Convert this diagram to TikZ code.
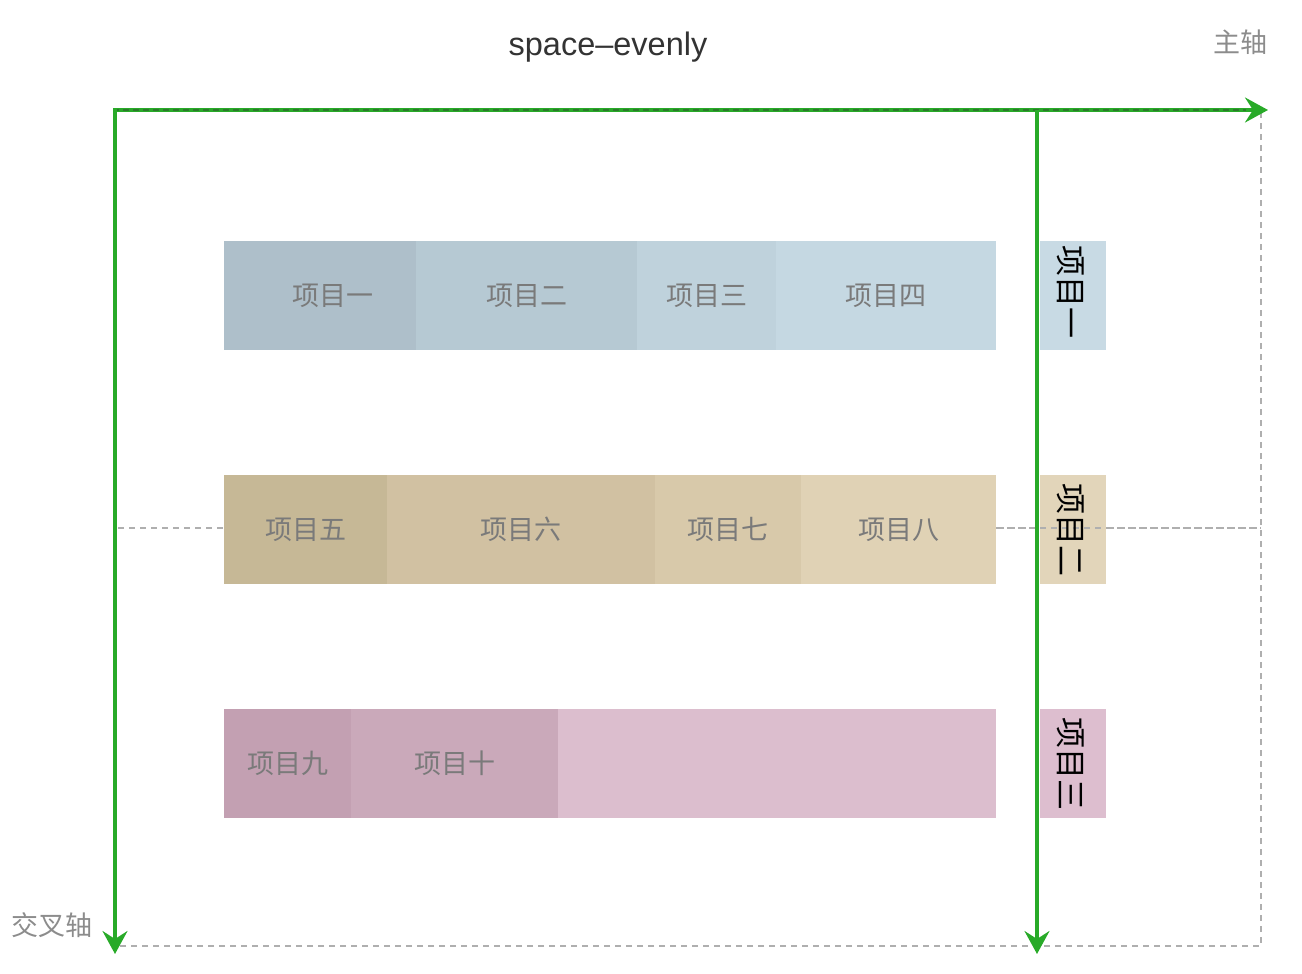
\documentclass[tikz,border=0pt]{standalone}
\usepackage{fontspec}
\setmainfont{Liberation Sans}
\newfontfamily\cjk{Noto Sans CJK SC}
\usetikzlibrary{arrows.meta}
\definecolor{axisgreen}{RGB}{40,170,40}
\definecolor{darkgreen}{RGB}{45,120,45}
\definecolor{guide}{RGB}{175,175,175}
\definecolor{bA}{RGB}{174,191,202}
\definecolor{bB}{RGB}{182,201,211}
\definecolor{bC}{RGB}{191,210,220}
\definecolor{bD}{RGB}{197,216,226}
\definecolor{yA}{RGB}{198,184,150}
\definecolor{yB}{RGB}{209,193,162}
\definecolor{yC}{RGB}{216,201,170}
\definecolor{yD}{RGB}{224,210,181}
\definecolor{pA}{RGB}{195,160,178}
\definecolor{pB}{RGB}{202,169,186}
\definecolor{pC}{RGB}{220,190,206}
\definecolor{rB}{RGB}{200,218,228}
\definecolor{rY}{RGB}{226,213,186}
\definecolor{rP}{RGB}{221,190,207}
\tikzset{
  seg/.style={draw=none, minimum height=109pt, inner sep=0pt, font=\cjk\fontsize{27}{27}\selectfont, text=black!52},
  side/.style={draw=none, minimum width=66pt, minimum height=109pt, inner sep=0pt},
  sidetext/.style={font=\cjk\fontsize{31}{31}\selectfont, text=black, rotate=-90},
  guideline/.style={draw=guide, line width=1.3pt, dash pattern=on 6pt off 5pt},
  axis/.style={draw=axisgreen, line width=3.2pt, -{Stealth[length=23pt,width=25pt,inset=8pt]}},
  axlabel/.style={font=\cjk\fontsize{27}{27}\selectfont, text=black!45},
}
\begin{document}
\begin{tikzpicture}[x=1pt,y=-1pt]
\useasboundingbox (0,0) rectangle (1302,974);
% guide lines
\draw[guideline] (1261,112) -- (1261,946) -- (118,946);
\draw[guideline] (118,528) -- (1261,528);
% row 1
\node[seg, fill=bA, minimum width=192pt] (n1) at (320,295.5) {};
\node[seg, fill=bB, minimum width=221pt] (n2) at (526.5,295.5) {项目二};
\node[seg, fill=bC, minimum width=139pt] (n3) at (706.5,295.5) {项目三};
\node[seg, fill=bD, minimum width=220pt] (n4) at (886,295.5) {项目四};
\node[seg, minimum height=0pt] (n1t) at (333,295.5) {项目一};
% row 2
\node[seg, fill=yA, minimum width=163pt] (n5) at (305.5,529.5) {项目五};
\node[seg, fill=yB, minimum width=268pt] (n6) at (521,529.5) {项目六};
\node[seg, fill=yC, minimum width=146pt] (n7) at (728,529.5) {项目七};
\node[seg, fill=yD, minimum width=195pt] (n8) at (898.5,529.5) {项目八};
% row 3
\node[seg, fill=pA, minimum width=127pt] (n9) at (287.5,763.5) {项目九};
\node[seg, fill=pB, minimum width=207pt] (n10) at (454.5,763.5) {项目十};
\node[seg, fill=pC, minimum width=438pt] (n11) at (777,763.5) {};
% side column
\node[side, fill=rB] (s1) at (1073,295.5) {};
\node[side, fill=rY] (s2) at (1073,529.5) {};
\node[side, fill=rP] (s3) at (1073,763.5) {};
\draw[guideline] (n8.east |- 0,528) -- (1261,528);
\node[sidetext] (t1) at (1071,292) {项目一};
\node[sidetext] (t2) at (1071,530) {项目二};
\node[sidetext] (t3) at (1071,764) {项目三};
% axes
\coordinate (o) at (113,110);
\coordinate (mainend) at (1268,110);
\coordinate (crossend) at (115,954);
\coordinate (rtop) at (1037,110);
\coordinate (rbot) at (1037,954);
\draw[axis] (o) -- (mainend);
\draw[darkgreen, line width=1.3pt, dash pattern=on 6pt off 4pt] (o) -- (1246,110);
\draw[axis] (115,108.5) -- (crossend);
\draw[axis] (rtop) -- (rbot);
% labels
\node[font=\fontsize{32.5}{32.5}\selectfont, text=black!80] (title) at (608,47) {space–evenly};
\node[axlabel] (mainlbl) at (1240,42) {主轴};
\node[axlabel] (crosslbl) at (52,925) {交叉轴};
\end{tikzpicture}
\end{document}
